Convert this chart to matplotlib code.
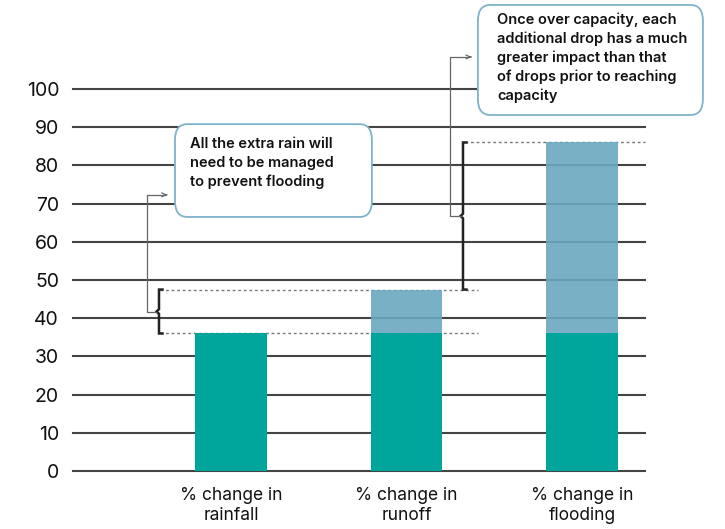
import matplotlib.pyplot as plt
import numpy as np
from matplotlib.patches import FancyBboxPatch

categories = ['% change in\nrainfall', '% change in\nrunoff', '% change in\nflooding']
base = np.array([36, 36, 36])          # capacity share (teal)
extra = np.array([0, 11.5, 50])        # over-capacity part (blue)
yticks = np.arange(0, 101, 10)

teal = '#00A69C'
blue = '#6AA8C0'
grid_col = '#444444'
box_edge = '#7FB3C8'

plt.rcParams['font.family'] = ['Inter', 'DejaVu Sans']

fig = plt.figure(figsize=(7.25, 5.29), dpi=100)
ax = fig.add_axes([73 / 725, 58 / 529, 572 / 725, 382 / 529])

x = np.arange(len(categories))
w = 0.405

for t in yticks:
    ax.axhline(t, color=grid_col, lw=1.5, zorder=1, clip_on=False)

ax.bar(x, base, width=w, color=teal, zorder=3)
ax.bar(x, extra, bottom=base, width=w, color=blue, alpha=0.9, zorder=3)

ax.set_xlim(-0.90, 2.359)
ax.set_ylim(0, 100)
ax.set_yticks(yticks)
ax.set_yticklabels([str(t) for t in yticks], fontsize=14, color='#111111')
ax.tick_params(axis='y', length=0, pad=10)
ax.set_xticks([])
for s in ax.spines.values():
    s.set_visible(False)

for xi, lab in zip(x, categories):
    ax.text(xi, -4.2, lab, ha='center', va='top', fontsize=12.5,
            color='#111111', linespacing=1.25, clip_on=False)

runoff_top = base[1] + extra[1]
flood_top = base[2] + extra[2]

# dotted guides at the level changes
dash = dict(color='#777777', lw=1, ls=(0, (2, 2)), zorder=2, clip_on=False)
ax.plot([-0.405, 1.407], [base[0], base[0]], **dash)
ax.plot([-0.405, 1.407], [runoff_top, runoff_top], **dash)
ax.plot([1.333, 2.359], [flood_top, flood_top], **dash)


def brace(xb, lo, hi, notch=0.014):
    mid = (lo + hi) / 2
    d = 0.6
    xs = [xb + 0.02, xb, xb, xb - notch, xb, xb, xb + 0.02]
    ys = [hi, hi, mid + d, mid, mid - d, lo, lo]
    ax.plot(xs, ys, color='#222222', lw=1.8, zorder=4, clip_on=False,
            solid_joinstyle='miter')
    return mid


def leader(x0, y0, xv, ytop, xend):
    ax.plot([x0, xv, xv, xend - 0.03], [y0, y0, ytop, ytop],
            color='#666666', lw=0.9, zorder=4, clip_on=False)
    ax.annotate('', xy=(xend, ytop), xytext=(xend - 0.035, ytop),
                arrowprops=dict(arrowstyle='->', color='#666666', lw=0.9,
                                mutation_scale=7),
                annotation_clip=False, zorder=4)


m1 = brace(-0.41, base[0], runoff_top)
leader(-0.425, m1, -0.479, 72.3, -0.348)

m2 = brace(1.322, runoff_top, flood_top)
leader(1.308, m2, 1.248, 108.4, 1.385)

txt = dict(fontsize=10.5, fontweight='semibold', color='#111111',
           ha='left', va='top', linespacing=1.4, zorder=6, clip_on=False)

b1 = FancyBboxPatch((-0.319, 66.5), 0.803 + 0.319, 90.8 - 66.5,
                    boxstyle='round,pad=0,rounding_size=0.07',
                    mutation_aspect=60, fc='white', ec=box_edge, lw=1.3,
                    zorder=5, clip_on=False)
ax.add_patch(b1)
ax.text(-0.234, 87.4, 'All the extra rain will\nneed to be managed\nto prevent flooding', **txt)

b2 = FancyBboxPatch((1.407, 93.2), 2.689 - 1.407, 122.0 - 93.2,
                    boxstyle='round,pad=0,rounding_size=0.07',
                    mutation_aspect=60, fc='white', ec=box_edge, lw=1.3,
                    zorder=5, clip_on=False)
ax.add_patch(b2)
ax.text(1.516, 120.0, 'Once over capacity, each\nadditional drop has a much\n'
        'greater impact than that\nof drops prior to reaching\ncapacity', **txt)

fig.savefig('out.png', dpi=100)
